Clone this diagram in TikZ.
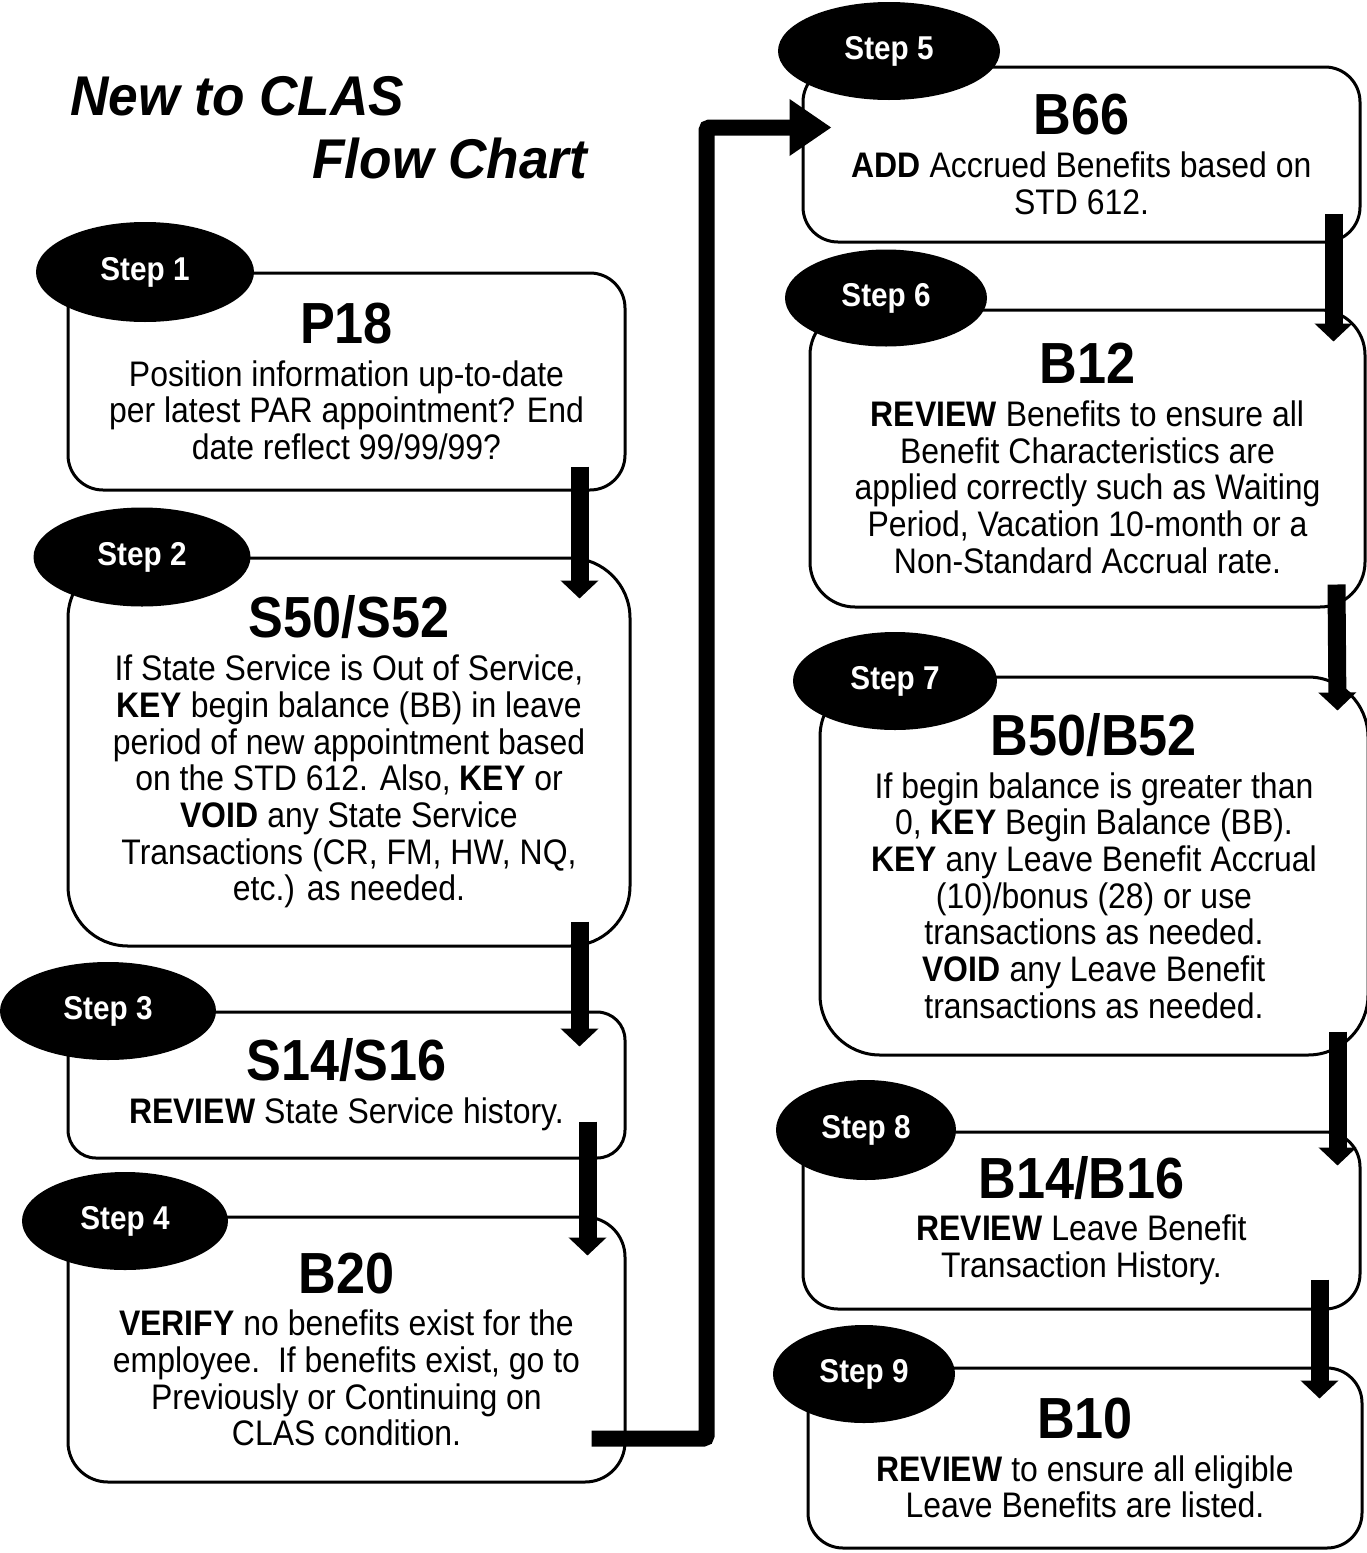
\documentclass[tikz,border=0pt]{standalone}
\usepackage{fontspec}
\setmainfont[FakeStretch=0.9]{Liberation Sans}
\newfontfamily\headfont[FakeStretch=0.95]{Liberation Sans}
\usetikzlibrary{arrows.meta,shapes.geometric}

\newcommand{\bodyfont}{\fontsize{35.5}{36.7}\selectfont}
\newcommand{\codefont}{\fontsize{58}{60}\selectfont\bfseries}
\newcommand{\stepfont}{\fontsize{33}{36}\selectfont\bfseries}
\newcommand{\titlefont}{\headfont\fontsize{56}{60}\selectfont\bfseries\itshape}

\begin{document}
\begin{tikzpicture}[x=1pt,y=-1pt,
  stepbox/.style={draw,line width=3pt,rounded corners=#1,align=center,font=\bodyfont,inner sep=0pt},
  stepbox/.default=35pt,
  stepoval/.style={ellipse,fill=black,text=white,font=\stepfont,inner sep=0pt},
  flow/.style={line width=18pt,-{Triangle[width=37pt,length=18pt]}},
  jump/.style={line width=16pt,rounded corners=3pt,-{Triangle[width=54pt,length=42pt]}}]
  \useasboundingbox (0,0) rectangle (1367,1553);

  % heading
  \node[anchor=base west,font=\titlefont,inner sep=0pt] (title1) at (70,115) {New to CLAS};
  \node[anchor=base west,font=\titlefont,inner sep=0pt] (title2) at (312,178) {Flow Chart};

  % left column
  \node[stepbox,minimum width=557pt,minimum height=217pt] (p18) at (346.5,381.5)
    {{\codefont P18}\\[6pt]
     Position information up-to-date\\
     per latest PAR appointment? End\\
     date reflect 99/99/99?};
  \node[stepbox=60pt,minimum width=562pt,minimum height=388pt] (s50) at (349,752)
    {{\codefont S50/S52}\\[6pt]
     If State Service is Out of Service,\\
     \textbf{KEY} begin balance (BB) in leave\\
     period of new appointment based\\
     on the STD 612. Also, \textbf{KEY} or\\
     \textbf{VOID} any State Service\\
     Transactions (CR, FM, HW, NQ,\\
     etc.) as needed.};
  \node[stepbox=28pt,minimum width=557pt,minimum height=146pt] (s14) at (346.5,1085)
    {{\codefont S14/S16}\\[6pt]
     \textbf{REVIEW} State Service history.};
  \node[stepbox=40pt,minimum width=557pt,minimum height=265pt] (b20) at (346.5,1349.5)
    {{\codefont B20}\\[6pt]
     \textbf{VERIFY} no benefits exist for the\\
     employee.\ \ If benefits exist, go to\\
     Previously or Continuing on\\
     CLAS condition.};

  % right column
  \node[stepbox,minimum width=557pt,minimum height=175pt] (b66) at (1081.5,154.5)
    {{\codefont B66}\\[6pt]
     \textbf{ADD} Accrued Benefits based on\\
     STD 612.};
  \node[stepbox=45pt,minimum width=555pt,minimum height=297pt] (b12) at (1087.5,458.5)
    {{\codefont B12}\\[6pt]
     \textbf{REVIEW} Benefits to ensure all\\
     Benefit Characteristics are\\
     applied correctly such as Waiting\\
     Period, Vacation 10-month or a\\
     Non-Standard Accrual rate.};
  \node[stepbox=60pt,minimum width=548pt,minimum height=378pt] (b50) at (1094,866)
    {{\codefont B50/B52}\\[6pt]
     If begin balance is greater than\\
     0, \textbf{KEY} Begin Balance (BB).\\
     \textbf{KEY} any Leave Benefit Accrual\\
     (10)/bonus (28) or use\\
     transactions as needed.\\
     \textbf{VOID} any Leave Benefit\\
     transactions as needed.};
  \node[stepbox,minimum width=557pt,minimum height=177pt] (b14) at (1081.5,1220.5)
    {{\codefont B14/B16}\\[6pt]
     \textbf{REVIEW} Leave Benefit\\
     Transaction History.};
  \node[stepbox,minimum width=554pt,minimum height=180pt] (b10) at (1085,1458)
    {{\codefont B10}\\[6pt]
     \textbf{REVIEW} to ensure all eligible\\
     Leave Benefits are listed.};

  % step ovals
  \node[stepoval,minimum width=218pt,minimum height=100pt] (step1) at (145,272) {Step 1};
  \node[stepoval,minimum width=217pt,minimum height=99pt] (step2) at (142,557) {Step 2};
  \node[stepoval,minimum width=216pt,minimum height=98pt] (step3) at (108,1011) {Step 3};
  \node[stepoval,minimum width=206pt,minimum height=98pt] (step4) at (125,1221) {Step 4};
  \node[stepoval,minimum width=222pt,minimum height=98pt] (step5) at (889,51) {Step 5};
  \node[stepoval,minimum width=202pt,minimum height=97pt] (step6) at (886,298) {Step 6};
  \node[stepoval,minimum width=204pt,minimum height=98pt] (step7) at (895,681) {Step 7};
  \node[stepoval,minimum width=180pt,minimum height=100pt] (step8) at (866,1130) {Step 8};
  \node[stepoval,minimum width=182pt,minimum height=98pt] (step9) at (864,1374) {Step 9};

  % arrows
  \draw[flow] ([shift={(-47,-25)}]p18.south east) -- ([shift={(-52,42)}]s50.north east);
  \draw[flow] ([shift={(-52,-26)}]s50.south east) -- ([shift={(-47,36)}]s14.north east);
  \draw[flow] ([shift={(-39,-38)}]s14.south east) -- ([shift={(-39,40)}]b20.north east);
  \draw[jump] ([shift={(-35,89)}]b20.east) -- ++(115,0) |- ([shift={(30,-27)}]b66.west);
  \draw[flow] ([shift={(-28,-30)}]b66.south east) -- ([shift={(-33,33)}]b12.north east);
  \draw[flow] ([shift={(-30,-24)}]b12.south east) -- ([shift={(-32,35)}]b50.north east);
  \draw[flow] ([shift={(-32,-25)}]b50.south east) -- ([shift={(-24,35)}]b14.north east);
  \draw[flow] ([shift={(-42,-31)}]b14.south east) -- ([shift={(-44,32)}]b10.north east);
\end{tikzpicture}
\end{document}
